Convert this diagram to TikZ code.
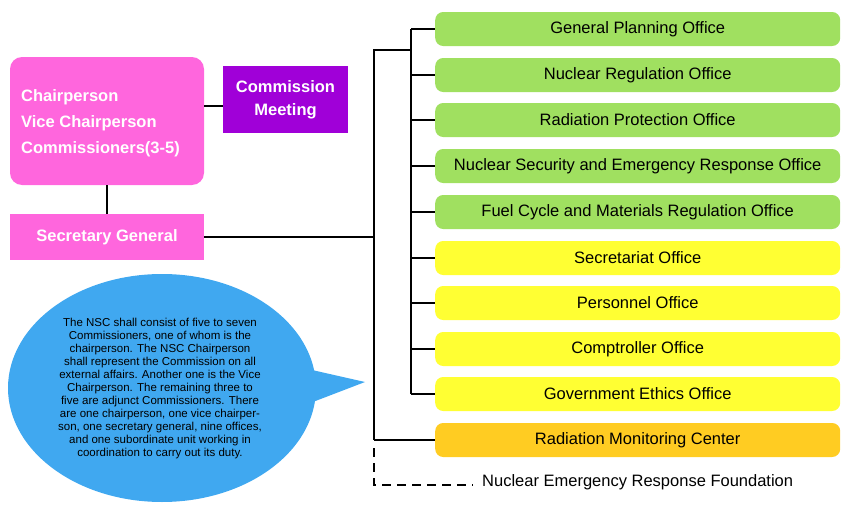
\documentclass[tikz,border=0pt]{standalone}
\usepackage{fontspec}
\setmainfont{Liberation Sans}
\begin{document}
\begin{tikzpicture}[x=1pt,y=-1pt,
  office/.style={rounded corners=8pt,minimum width=405pt,minimum height=34pt,anchor=west,font=\fontsize{16.5}{18}\selectfont,inner sep=0pt},
  ln/.style={line width=1.3pt}]
\useasboundingbox (0,0) rectangle (855,514);
\definecolor{pk}{HTML}{FF66DD}\definecolor{pu}{HTML}{A000D8}
\definecolor{gr}{HTML}{A0E060}\definecolor{ye}{HTML}{FFFF33}\definecolor{og}{HTML}{FFCC22}
\definecolor{bl}{HTML}{40A8F0}
\node[fill=pk,rounded corners=12pt,minimum width=194pt,minimum height=128pt,inner sep=0pt] (chair) at (107,121) {};
\node[anchor=west,align=left,text=white,font=\bfseries\fontsize{16.5}{26}\selectfont,inner sep=0pt] (chairt) at (21,123) {Chairperson\\Vice Chairperson\\Commissioners(3-5)};
\node[fill=pu,minimum width=125pt,minimum height=67pt,inner sep=0pt,align=center,text=white,font=\bfseries\fontsize{16.5}{23}\selectfont] (cm) at (285.5,99.5) {Commission\\Meeting};
\node[fill=pk,minimum width=194pt,minimum height=46pt,inner sep=0pt,text=white,font=\bfseries\fontsize{16.5}{18}\selectfont] (sg) at (107,237) {Secretary General};
\draw[ln] (chair.east |- 0,106) -- (cm.west |- 0,106);
\draw[ln] (chair.south) -- (sg.north);
\coordinate (j1) at (374,237);
\coordinate (t1) at (374,50); \coordinate (t2) at (411,50);
\coordinate (b1) at (411,29); \coordinate (b2) at (411,394);
\coordinate (r1) at (374,440);
\draw[ln] (sg.east) -- (j1);
\draw[ln] (r1) -- (t1) -- (t2);
\draw[ln] (b1) -- (b2);
\foreach \n/\y/\c/\t in {o1/29/gr/General Planning Office,o2/75/gr/Nuclear Regulation Office,o3/120/gr/Radiation Protection Office,o4/166/gr/Nuclear Security and Emergency Response Office,o5/212/gr/Fuel Cycle and Materials Regulation Office,o6/258/ye/Secretariat Office,o7/303/ye/Personnel Office,o8/349/ye/Comptroller Office,o9/394/ye/Government Ethics Office}{
  \node[office,fill=\c] (\n) at (435,\y) {\t};
  \draw[ln] (411,\y) -- (\n.west);
}
\node[office,fill=og] (o10) at (435,440) {Radiation Monitoring Center};
\draw[ln] (r1) -- (o10.west);
\coordinate (d1) at (374,448); \coordinate (d2) at (374,485);
\node[anchor=west,font=\fontsize{16.5}{18}\selectfont,inner sep=0pt] (nerf) at (482,482) {Nuclear Emergency Response Foundation};
\draw[ln,dash pattern=on 9pt off 6pt] (d1) -- (d2) -- (473,485);
\fill[bl] (162,388) ellipse [x radius=154pt,y radius=114pt];
\fill[bl] (290,365) -- (365,382) -- (292,410) -- cycle;
\node[align=center,font=\fontsize{11.5}{13}\selectfont,inner sep=0pt] (txt) at (160,389) {The NSC shall consist of five to seven\\Commissioners, one of whom is the\\chairperson. The NSC Chairperson\\shall represent the Commission on all\\external affairs. Another one is the Vice\\Chairperson. The remaining three to\\five are adjunct Commissioners. There\\are one chairperson, one vice chairper-\\son, one secretary general, nine offices,\\and one subordinate unit working in\\coordination to carry out its duty.};
\end{tikzpicture}
\end{document}
